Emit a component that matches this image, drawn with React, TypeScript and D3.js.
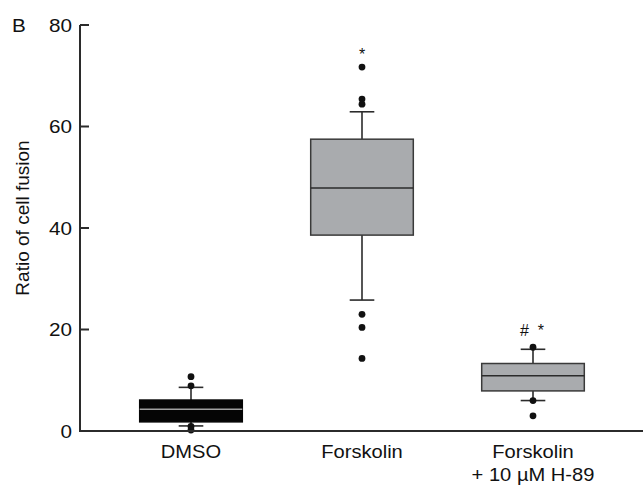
import { useEffect, useRef } from 'react'
import * as d3 from 'd3'

// groups on the x axis
const categories = ['DMSO', 'Forskolin', 'Forskolin|+ 10 µM H-89']

// box statistics
const q1 = [1.8, 38.6, 7.9]
const medians = [4.3, 47.9, 10.9]
const q3 = [6.1, 57.5, 13.3]
const whiskerLow = [1.0, 25.8, 6.0]
const whiskerHigh = [8.6, 62.9, 16.1]

// points drawn as dots
const outliers = [
  [10.7, 8.9, 0.9, 0.2],
  [71.7, 65.4, 64.4, 23.0, 20.4, 14.3],
  [16.5, 6.0, 3.0]
]

// significance marks above each group
const marks = ['', '*', '# *']
const markValues = [0, 73.2, 18.7]

const yTicks = [0, 20, 40, 60, 80]

export default function App() {
  const svgRef = useRef<SVGSVGElement>(null)

  useEffect(() => {
    if (!svgRef.current) return
    const width = 643
    const height = 485
    const svg = d3.select(svgRef.current)
    svg.selectAll('*').remove()
    svg.attr('width', width).attr('height', height)

    const font = 'Liberation Sans, Arial, sans-serif'
    const axisColor = '#2b2b2b'
    const stretch = 1.15 // the original figure is a little wide in its lettering

    const x = d3.scaleBand<string>()
      .domain(categories)
      .range([105.5, 618.5])
      .paddingInner(0.4)
      .paddingOuter(0.2)

    const y = d3.scaleLinear()
      .domain([0, 80])
      .range([431, 25])

    const g = svg.append('g')

    const label = (tx: number, ty: number, t: string, size: number, anchor: string) =>
      g.append('text')
        .attr('transform', `translate(${tx},${ty}) scale(${stretch},1)`)
        .attr('text-anchor', anchor)
        .attr('font-family', font)
        .attr('font-size', size)
        .attr('fill', '#111')
        .text(t)

    // boxes
    categories.forEach((c, i) => {
      const x0 = x(c)!
      const bw = x.bandwidth()
      const cx = x0 + bw / 2
      const capW = bw * 0.24
      const dark = i === 0

      // whiskers
      const seg = (x1: number, x2: number, y1: number, y2: number) =>
        g.append('line')
          .attr('x1', x1).attr('x2', x2)
          .attr('y1', y1).attr('y2', y2)
          .attr('stroke', axisColor).attr('stroke-width', 1.6)
      seg(cx, cx, y(q3[i]), y(whiskerHigh[i]))
      seg(cx, cx, y(q1[i]), y(whiskerLow[i]))
      seg(cx - capW / 2, cx + capW / 2, y(whiskerHigh[i]), y(whiskerHigh[i]))
      seg(cx - capW / 2, cx + capW / 2, y(whiskerLow[i]), y(whiskerLow[i]))

      g.append('rect')
        .attr('x', x0)
        .attr('y', y(q3[i]))
        .attr('width', bw)
        .attr('height', y(q1[i]) - y(q3[i]))
        .attr('fill', dark ? '#050505' : '#a9abae')
        .attr('stroke', dark ? '#050505' : '#3a3a3a')
        .attr('stroke-width', 1.5)

      g.append('line')
        .attr('x1', x0).attr('x2', x0 + bw)
        .attr('y1', y(medians[i])).attr('y2', y(medians[i]))
        .attr('stroke', dark ? '#a0a0a0' : '#2b2b2b')
        .attr('stroke-width', dark ? 1.6 : 1.5)

      g.selectAll(null)
        .data(outliers[i])
        .enter()
        .append('circle')
        .attr('cx', cx)
        .attr('cy', d => y(d))
        .attr('r', 3.4)
        .attr('fill', '#111')

      if (marks[i]) {
        g.append('text')
          .attr('x', cx + (i === 2 ? -1 : 0))
          .attr('y', y(markValues[i]))
          .attr('text-anchor', 'middle')
          .attr('font-family', font)
          .attr('font-size', 16)
          .attr('fill', '#111')
          .attr('xml:space', 'preserve')
          .text(marks[i].replace(' ', '  '))
      }

      // category labels
      c.split('|').forEach((t, k) => {
        label(cx, 458 + k * 23, t, 17.5, 'middle')
      })
    })

    // axes
    g.append('line')
      .attr('x1', 80).attr('x2', 643)
      .attr('y1', y(0)).attr('y2', y(0))
      .attr('stroke', axisColor).attr('stroke-width', 2)
    g.append('line')
      .attr('x1', 80).attr('x2', 80)
      .attr('y1', y(0) + 1).attr('y2', y(80))
      .attr('stroke', axisColor).attr('stroke-width', 2)

    yTicks.forEach(t => {
      if (t > 0) {
        g.append('line')
          .attr('x1', 80).attr('x2', 89)
          .attr('y1', y(t)).attr('y2', y(t))
          .attr('stroke', axisColor).attr('stroke-width', 2)
      }
      label(72, y(t) + 6.5, String(t), 18, 'end')
    })

    g.append('text')
      .attr('transform', `translate(29,${y(40) - 10}) rotate(-90)`)
      .attr('text-anchor', 'middle')
      .attr('font-family', font)
      .attr('font-size', 19)
      .attr('fill', '#111')
      .text('Ratio of cell fusion')

    label(12, 32, 'B', 18, 'start')
  }, [])

  return (
    <div style={{ position: 'absolute', left: 0, top: 0, background: '#fff' }}>
      <svg ref={svgRef} style={{ display: 'block' }} />
    </div>
  )
}
